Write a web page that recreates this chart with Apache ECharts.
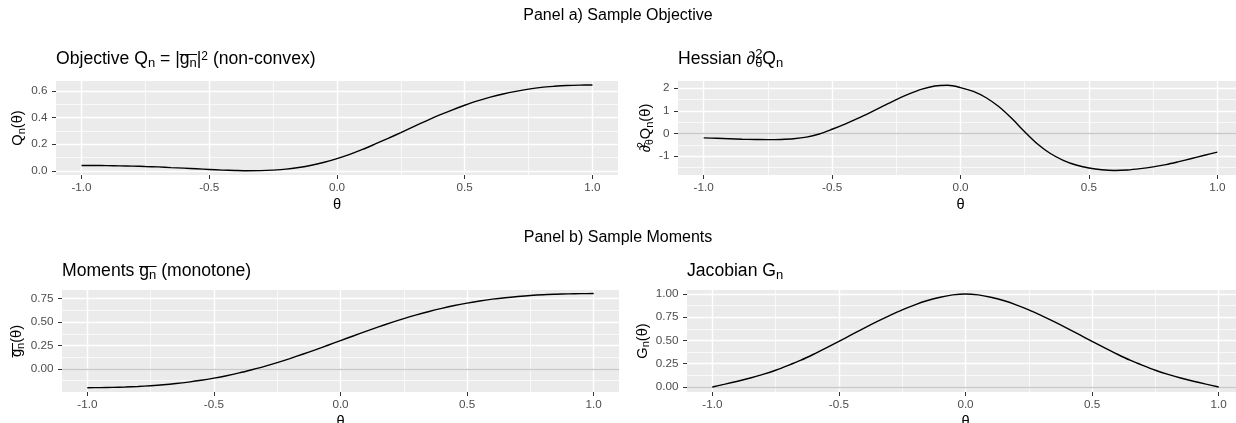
<!DOCTYPE html>
<html>
<head>
<meta charset="utf-8">
<title>Sample objective and moments</title>
<script src="https://cdn.jsdelivr.net/npm/echarts@6/dist/echarts.min.js"></script>
<style>
  html, body { margin: 0; padding: 0; background: #fff; }
  #main { width: 1236px; height: 423px; }
</style>
</head>
<body>
<div id="main"></div>
<script>
// theta grid shared by the four panels
const theta = [-1.00, -0.95, -0.90, -0.85, -0.80, -0.75, -0.70, -0.65, -0.60, -0.55, -0.50,
               -0.45, -0.40, -0.35, -0.30, -0.25, -0.20, -0.15, -0.10, -0.05, 0.00,
               0.05, 0.10, 0.15, 0.20, 0.25, 0.30, 0.35, 0.40, 0.45, 0.50,
               0.55, 0.60, 0.65, 0.70, 0.75, 0.80, 0.85, 0.90, 0.95, 1.00];
// values
const objectiveQ = [0.040, 0.040, 0.039, 0.037, 0.035, 0.032, 0.029, 0.024, 0.020, 0.015, 0.010,
                    0.005, 0.002, 0.000, 0.001, 0.005, 0.012, 0.025, 0.042, 0.064, 0.092,
                    0.124, 0.161, 0.202, 0.244, 0.288, 0.333, 0.377, 0.419, 0.458, 0.494,
                    0.527, 0.555, 0.579, 0.599, 0.616, 0.629, 0.637, 0.643, 0.646, 0.647];
const hessianQ = [-0.19, -0.21, -0.23, -0.25, -0.26, -0.27, -0.26, -0.23, -0.16, -0.02, 0.19,
                  0.42, 0.67, 0.94, 1.22, 1.50, 1.75, 1.96, 2.10, 2.13, 2.03,
                  1.86, 1.58, 1.18, 0.66, 0.08, -0.46, -0.88, -1.18, -1.39, -1.52,
                  -1.60, -1.63, -1.61, -1.55, -1.47, -1.37, -1.24, -1.10, -0.96, -0.82];
const momentsG = [-0.200, -0.199, -0.197, -0.193, -0.187, -0.179, -0.169, -0.156, -0.140, -0.121, -0.098,
                  -0.072, -0.042, -0.008, 0.028, 0.068, 0.111, 0.157, 0.204, 0.253, 0.303,
                  0.352, 0.401, 0.449, 0.494, 0.537, 0.577, 0.614, 0.647, 0.677, 0.703,
                  0.726, 0.745, 0.761, 0.774, 0.785, 0.793, 0.798, 0.802, 0.804, 0.805];
const jacobianG = [0.000, 0.030, 0.062, 0.097, 0.136, 0.180, 0.232, 0.288, 0.352, 0.420, 0.490,
                   0.562, 0.634, 0.703, 0.768, 0.830, 0.884, 0.930, 0.965, 0.990, 1.000,
                   0.990, 0.965, 0.930, 0.884, 0.830, 0.768, 0.703, 0.634, 0.562, 0.490,
                   0.420, 0.352, 0.288, 0.232, 0.180, 0.136, 0.097, 0.062, 0.030, 0.000];

// tick positions
const xTicks = [-1, -0.5, 0, 0.5, 1];
const xMinor = [-0.75, -0.25, 0.25, 0.75];
const objTicks = [0, 0.2, 0.4, 0.6];
const objMinor = [0.1, 0.3, 0.5];
const hesTicks = [-1, 0, 1, 2];
const hesMinor = [-1.5, -0.5, 0.5, 1.5];
const momTicks = [0, 0.25, 0.5, 0.75];
const momMinor = [-0.125, 0.125, 0.375, 0.625];
const jacTicks = [0, 0.25, 0.5, 0.75, 1];
const jacMinor = [0.125, 0.375, 0.625, 0.875];

const FONT = '"Liberation Sans", Arial, sans-serif';

const panels = [
  { grid: { left: 56, top: 81, width: 562, height: 94 }, yMin: -0.032, yMax: 0.677,
    ticks: objTicks, minor: objMinor, digits: 1, values: objectiveQ, zero: false,
    yName: '{m|Q}{s|n}{m|(θ)}', yGap: 27 },
  { grid: { left: 678, top: 81, width: 565, height: 94 }, yMin: -1.83, yMax: 2.32,
    ticks: hesTicks, minor: hesMinor, digits: 0, values: hessianQ, zero: true,
    yName: '{m|∂}{p0|2}{st|θ}{m|Q}{s|n}{m|(θ)}', yGap: 21 },
  { grid: { left: 62, top: 290, width: 557, height: 102 }, yMin: -0.246, yMax: 0.843,
    ticks: momTicks, minor: momMinor, digits: 2, values: momentsG, zero: true,
    yName: '{m|g}{s|n}{m|(θ)}', yGap: 35 },
  { grid: { left: 687, top: 290, width: 557, height: 102 }, yMin: -0.054, yMax: 1.043,
    ticks: jacTicks, minor: jacMinor, digits: 2, values: jacobianG, zero: true,
    yName: '{m|G}{s|n}{m|(θ)}', yGap: 34 }
];

const nameRich = {
  m: { fontSize: 14.67, fontFamily: FONT, color: '#000', lineHeight: 20, verticalAlign: 'middle' },
  s: { fontSize: 11, fontFamily: FONT, color: '#000', height: 13, verticalAlign: 'bottom' },
  p0: { fontSize: 10.5, fontFamily: FONT, color: '#000', height: 11, width: 0, verticalAlign: 'top' },
  st: { fontSize: 10.5, fontFamily: FONT, color: '#000', height: 13, verticalAlign: 'bottom' }
};

const titleRich = {
  m: { fontSize: 17.6, fontFamily: FONT, fill: '#000', lineHeight: 24, verticalAlign: 'middle' },
  s: { fontSize: 13, fontFamily: FONT, fill: '#000', height: 15.6, verticalAlign: 'bottom' },
  p: { fontSize: 12, fontFamily: FONT, fill: '#000', height: 18, verticalAlign: 'top' },
  p0: { fontSize: 13, fontFamily: FONT, fill: '#000', height: 14.4, width: 0, verticalAlign: 'top' },
  st: { fontSize: 13, fontFamily: FONT, fill: '#000', height: 15.6, verticalAlign: 'bottom' }
};

const grids = [], xAxes = [], yAxes = [], series = [];

panels.forEach((p, i) => {
  // keep the grid rectangle exactly where it is set (the right panels run off the canvas)
  grids.push(Object.assign({ backgroundColor: '#EBEBEB', show: true, borderWidth: 0,
                             outerBoundsMode: 'none', containLabel: false }, p.grid));

  // major x axis with labels
  xAxes.push({
    type: 'value', gridIndex: i, min: -1.1, max: 1.1, position: 'bottom',
    axisLine: { show: false, onZero: false },
    axisTick: { show: true, length: 4, customValues: xTicks, lineStyle: { color: '#333333', width: 1 } },
    axisLabel: { customValues: xTicks, margin: 6.5, color: '#4D4D4D', fontSize: 11.7, fontFamily: FONT,
                 formatter: v => v.toFixed(1) },
    splitLine: { show: true, lineStyle: { color: '#FFFFFF', width: 1.4 } },
    name: 'θ', nameLocation: 'middle', nameGap: 22.5,
    nameTextStyle: { fontSize: 14.67, fontFamily: FONT, color: '#000' }
  });
  // minor x grid
  xAxes.push({
    type: 'value', gridIndex: i, min: -1.1, max: 1.1, position: 'bottom',
    axisLine: { show: false, onZero: false },
    axisTick: { show: false, customValues: xMinor },
    axisLabel: { show: false, customValues: xMinor },
    splitLine: { show: true, lineStyle: { color: '#FFFFFF', width: 0.7 } }
  });

  yAxes.push({
    type: 'value', gridIndex: i, min: p.yMin, max: p.yMax, position: 'left',
    axisLine: { show: false, onZero: false },
    axisTick: { show: true, length: 4, customValues: p.ticks, lineStyle: { color: '#333333', width: 1 } },
    axisLabel: { customValues: p.ticks, margin: 8.5, color: '#4D4D4D', fontSize: 11.7, fontFamily: FONT,
                 formatter: v => v.toFixed(p.digits) },
    splitLine: { show: true, lineStyle: { color: '#FFFFFF', width: 1.4 } },
    name: p.yName, nameLocation: 'middle', nameRotate: 90, nameGap: p.yGap,
    nameTextStyle: { rich: nameRich }
  });
  yAxes.push({
    type: 'value', gridIndex: i, min: p.yMin, max: p.yMax, position: 'left',
    axisLine: { show: false, onZero: false },
    axisTick: { show: false, customValues: p.minor },
    axisLabel: { show: false, customValues: p.minor },
    splitLine: { show: true, lineStyle: { color: '#FFFFFF', width: 0.7 } }
  });

  const s = {
    type: 'line', xAxisIndex: 2 * i, yAxisIndex: 2 * i, z: 3,
    data: theta.map((t, k) => [t, p.values[k]]),
    showSymbol: false, smooth: 0.3, silent: true,
    lineStyle: { color: '#000000', width: 1.4 }
  };
  if (p.zero) {
    s.markLine = {
      silent: true, z: 1, symbol: ['none', 'none'], label: { show: false },
      lineStyle: { color: '#C9C9C9', width: 1.3, type: 'solid' },
      data: [{ yAxis: 0 }]
    };
  }
  series.push(s);
});

const myChart = echarts.init(document.getElementById('main'), null, { renderer: 'canvas' });

myChart.setOption({
  animation: false,
  backgroundColor: '#FFFFFF',
  grid: grids,
  xAxis: xAxes,
  yAxis: yAxes,
  series: series,
  graphic: [
    { type: 'text', x: 618, y: 15.5,
      style: { text: 'Panel a) Sample Objective', fontSize: 16, fontFamily: FONT, fill: '#000',
               align: 'center', verticalAlign: 'middle' } },
    { type: 'text', x: 618, y: 237.5,
      style: { text: 'Panel b) Sample Moments', fontSize: 16, fontFamily: FONT, fill: '#000',
               align: 'center', verticalAlign: 'middle' } },
    { type: 'text', x: 56, y: 59.6,
      style: { text: '{m|Objective Q}{s|n}{m| = |g}{s|n}{m||}{p|2}{m| (non-convex)}',
               rich: titleRich, verticalAlign: 'middle' } },
    { type: 'text', x: 678, y: 59.6,
      style: { text: '{m|Hessian ∂}{p0|2}{st|θ}{m|Q}{s|n}', rich: titleRich, verticalAlign: 'middle' } },
    { type: 'text', x: 62, y: 271.6,
      style: { text: '{m|Moments g}{s|n}{m| (monotone)}', rich: titleRich, verticalAlign: 'middle' } },
    { type: 'text', x: 687, y: 271.6,
      style: { text: '{m|Jacobian G}{s|n}', rich: titleRich, verticalAlign: 'middle' } },
    // overline bars on g
    { type: 'line', shape: { x1: 179.5, y1: 54.5, x2: 197, y2: 54.5 }, style: { stroke: '#000', lineWidth: 1 } },
    { type: 'line', shape: { x1: 139, y1: 266.5, x2: 156.5, y2: 266.5 }, style: { stroke: '#000', lineWidth: 1 } },
    { type: 'line', shape: { x1: 12.5, y1: 343, x2: 12.5, y2: 357.5 }, style: { stroke: '#000', lineWidth: 1 } }
  ]
});

window.addEventListener('resize', function () {
  myChart.resize();
});
</script>
</body>
</html>
